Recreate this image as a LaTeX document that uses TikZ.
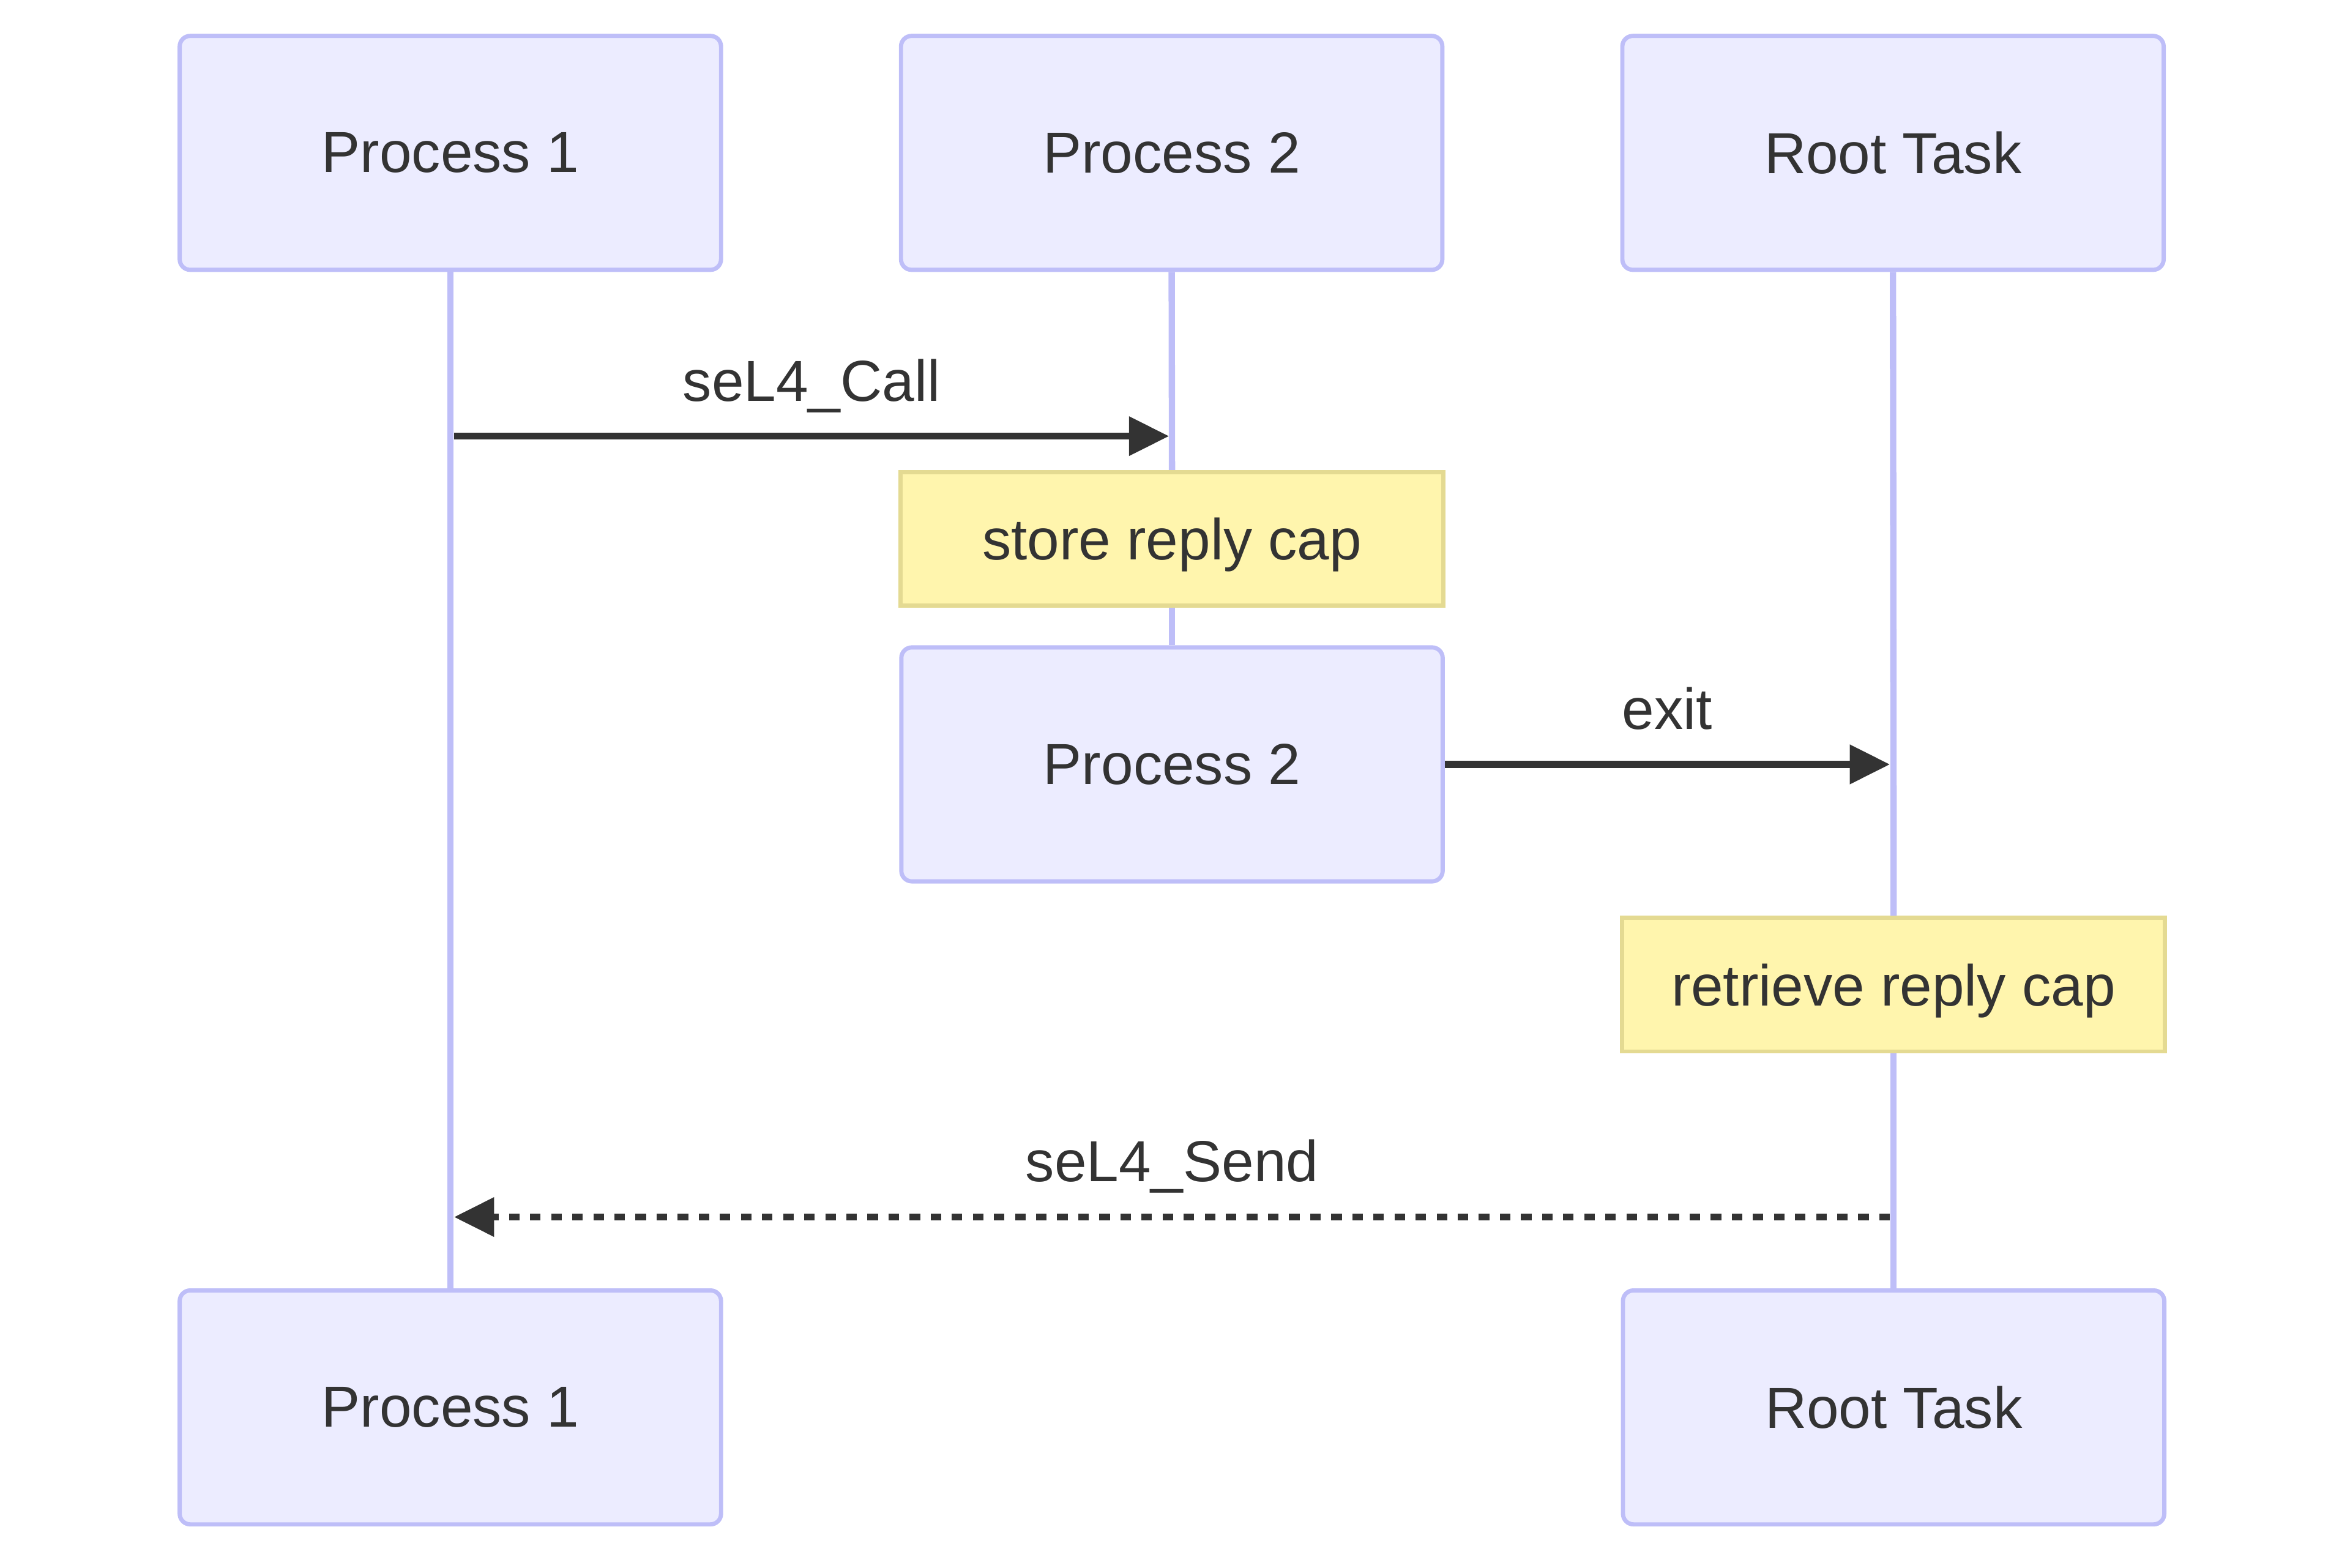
\documentclass[tikz,border=0pt]{standalone}
\usepackage{fontspec}
\setmainfont{Liberation Sans}
\usetikzlibrary{arrows.meta,positioning}
\definecolor{ActorFill}{RGB}{236,236,255}
\definecolor{ActorLine}{RGB}{190,190,248}
\definecolor{NoteFill}{RGB}{255,245,173}
\definecolor{NoteLine}{RGB}{228,218,146}
\definecolor{InkGray}{RGB}{51,51,51}

\begin{document}
\begin{tikzpicture}[x=0.01cm,y=-0.01cm,node distance=1.172cm,font=\fontsize{10.98}{13}\selectfont,text=InkGray,actor/.style={rectangle,rounded corners=2pt,draw=ActorLine,line width=0.8pt,fill=ActorFill,minimum width=3.61cm,minimum height=1.56cm,inner sep=0pt},note/.style={rectangle,draw=NoteLine,line width=0.8pt,fill=NoteFill,minimum width=3.62cm,minimum height=0.89cm,inner sep=0pt,text depth=0pt},life/.style={draw=ActorLine,line width=1.2pt},msg/.style={-{Triangle[length=7.6pt,width=7.2pt]},draw=InkGray,line width=1.3pt},reply/.style={msg,dash pattern=on 2pt off 2pt},lbl/.style={anchor=base,yshift=0.235cm}]
\useasboundingbox (0,0) rectangle (1568,1046);
% participants
\node[actor](p1) at (300.5,102){Process 1};
\node[actor,right=of p1](p2){Process 2};
\node[actor,right=of p2](rt){Root Task};
\node[actor](p1b) at (300.5,939){Process 1};
\node[actor](rtb) at (1263.5,939){Root Task};
% notes and destroyed participant
\node[note](n1) at (782,359.5){store reply cap};
\node[actor](p2b) at (782,510){Process 2};
\node[note](n2) at (1263.5,657){retrieve reply cap};
% lifelines
\foreach \x/\y in {p1/p1b,p2/n1,n1/p2b,rt/n2,n2/rtb}{\draw[life](\x.south)--(\y.north);}
% messages
\coordinate(c1) at (303,291);
\coordinate(c2) at (780,291);
\coordinate(e2) at (1261,510);
\coordinate(s1) at (1261,812);
\coordinate(s2) at (303,812);
\draw[msg](c1)--node[lbl]{seL4\_Call}(c2);
\draw[msg](p2b.east)--node[lbl]{exit}(e2);
\draw[reply](s1)--node[lbl]{seL4\_Send}(s2);
\end{tikzpicture}
\end{document}
